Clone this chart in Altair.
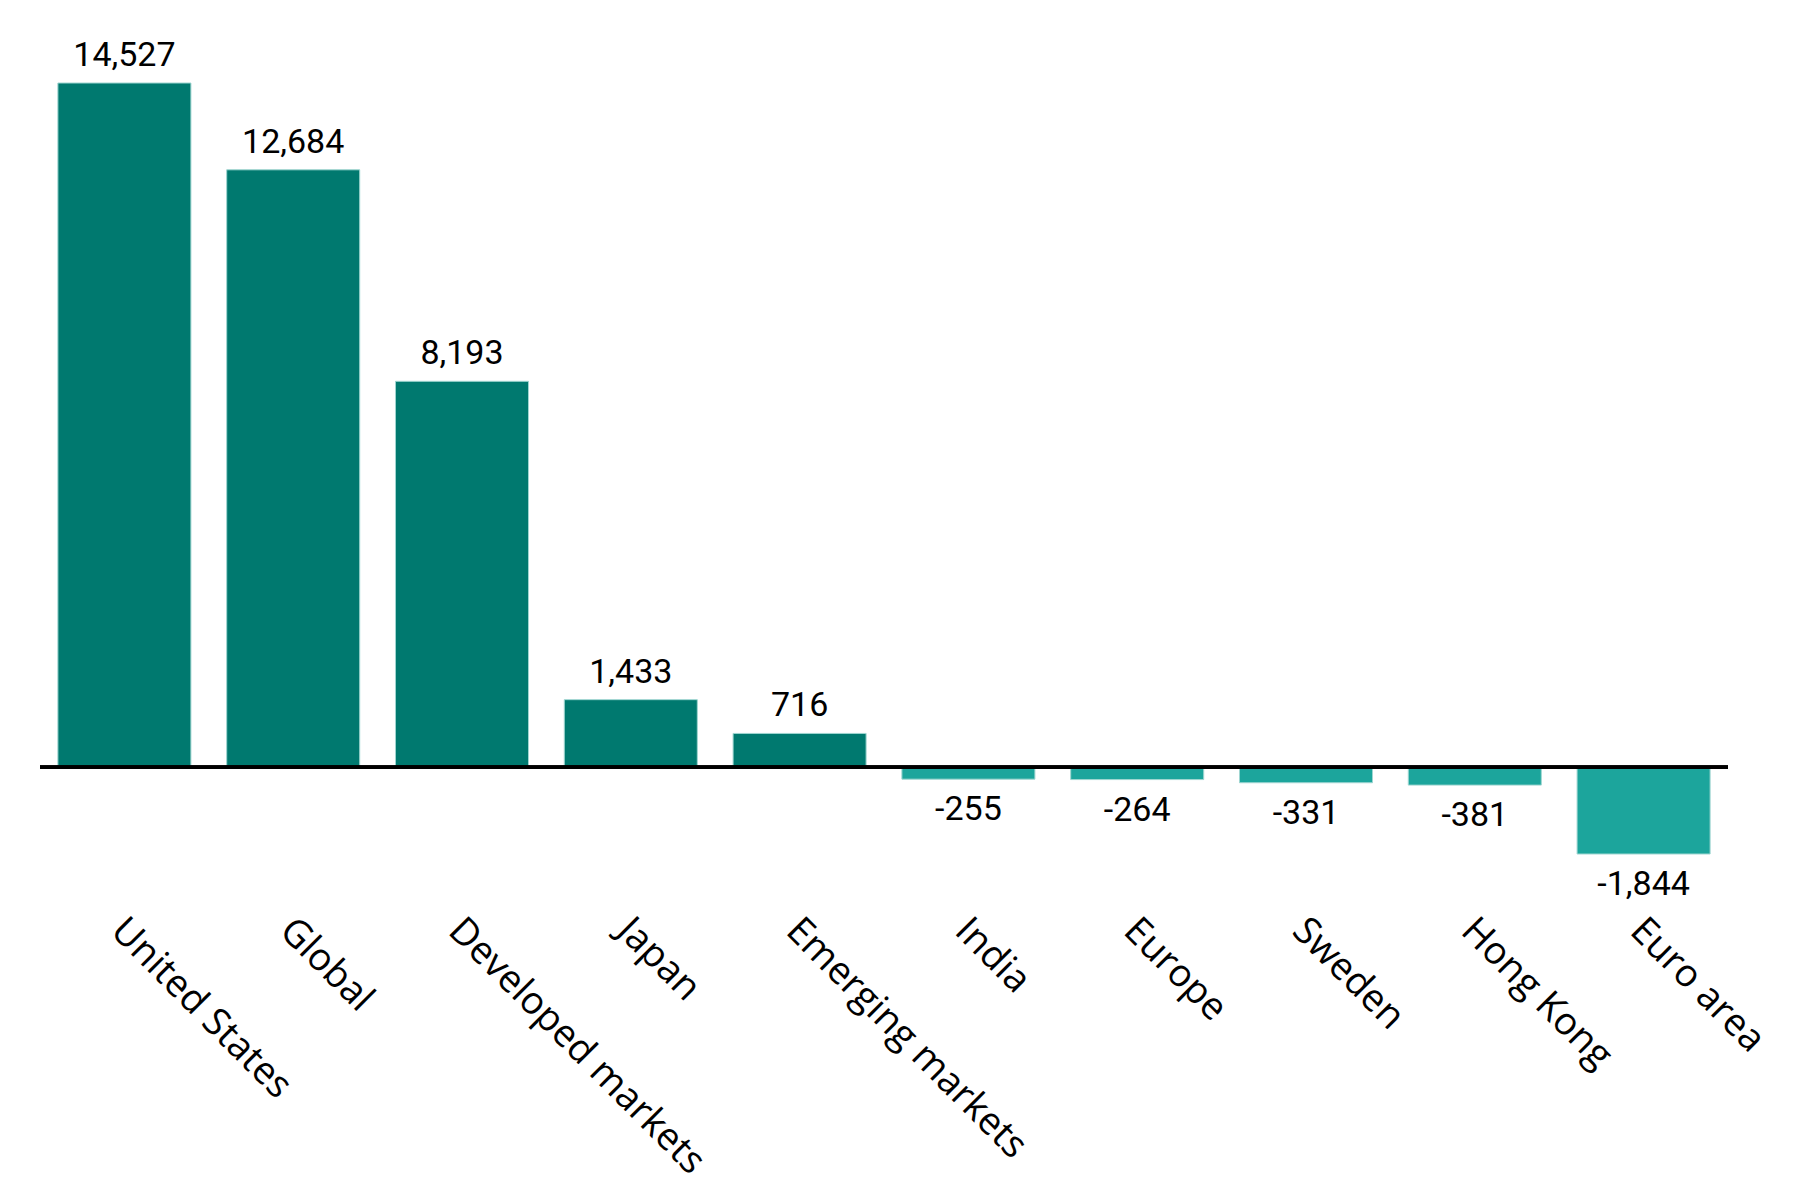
import altair as alt
import pandas as pd

# Net flows by market
categories = [
    "United States", "Global", "Developed markets", "Japan", "Emerging markets",
    "India", "Europe", "Sweden", "Hong Kong", "Euro area",
]
values = [14527, 12684, 8193, 1433, 716, -255, -264, -331, -381, -1844]

DARK = "#00796F"
LIGHT = "#1CA59C"

df = pd.DataFrame({"category": categories, "value": values})
df["label"] = [f"{v:,}" for v in values]
df["sign"] = ["pos" if v > 0 else "neg" for v in values]
df["zero"] = 0

W, H = 1688, 771

x = alt.X(
    "category:N",
    sort=categories,
    scale=alt.Scale(paddingInner=0.212, paddingOuter=0.106),
    axis=alt.Axis(
        title=None, labelAngle=45, labelPadding=57, labelOffset=6,
        ticks=False, domain=False,
        labelFont="Open Sans", labelFontSize=38, labelColor="#000000",
        labelLimit=700,
    ),
)
y_scale = alt.Scale(domain=[-1844, 14527], nice=False, zero=True)
y = alt.Y("value:Q", scale=y_scale, axis=None)

bars = alt.Chart(df).mark_bar(stroke="#9fd6d1", strokeWidth=1).encode(
    x=x,
    y=y,
    color=alt.Color(
        "sign:N",
        scale=alt.Scale(domain=["pos", "neg"], range=[DARK, LIGHT]),
        legend=None,
    ),
)

pos_labels = alt.Chart(df).transform_filter("datum.value > 0").mark_text(
    baseline="alphabetic", dy=-17, font="Roboto", fontSize=34, color="#000000"
).encode(x=x, y=y, text="label:N")

neg_labels = alt.Chart(df).transform_filter("datum.value < 0").mark_text(
    baseline="alphabetic", dy=41, font="Roboto", fontSize=34, color="#000000"
).encode(x=x, y=y, text="label:N")

# zero baseline across the full plot width
zero_line = alt.Chart(df).mark_rule(color="#000000", strokeWidth=3).encode(
    y=alt.Y("zero:Q", scale=y_scale, axis=None)
)

chart = (
    alt.layer(bars, zero_line, pos_labels, neg_labels)
    .properties(
        width=W, height=H,
        autosize=alt.AutoSizeParams(type="none"),
        padding={"left": 40, "top": 83, "right": 72, "bottom": 346},
    )
    .configure(background="#ffffff")
    .configure_view(strokeWidth=0)
)

chart.save("out.html", embed_options={"renderer": "svg", "actions": False})
